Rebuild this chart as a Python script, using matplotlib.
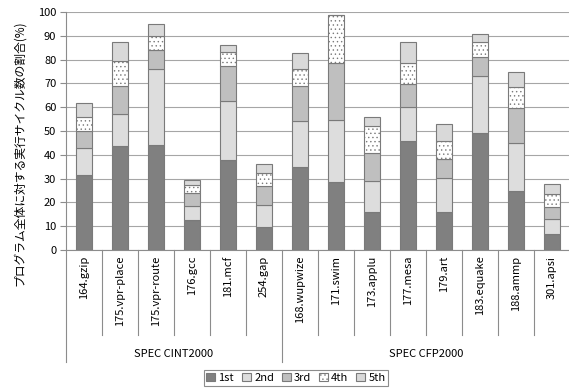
import numpy as np
import matplotlib
matplotlib.use("Agg")
import matplotlib.pyplot as plt
from matplotlib.transforms import blended_transform_factory

plt.rcParams['font.family'] = ['Noto Sans CJK JP', 'DejaVu Sans']
plt.rcParams['hatch.color'] = '#c4c4c4'
plt.rcParams['hatch.linewidth'] = 0.5

# データ (各順位の割合, %)
benchmarks = ['164.gzip', '175.vpr-place', '175.vpr-route', '176.gcc', '181.mcf', '254.gap',
              '168.wupwize', '171.swim', '173.applu', '177.mesa', '179.art', '183.equake',
              '188.ammp', '301.apsi']
first = [31.7, 43.7, 44.1, 12.6, 37.8, 9.8, 34.9, 28.6, 16.1, 45.9, 16.0, 49.2, 24.8, 6.6]
second = [11.0, 13.3, 31.8, 5.7, 24.9, 9.0, 19.2, 26.0, 12.8, 14.3, 14.4, 23.9, 20.0, 6.3]
third = [7.2, 11.9, 8.0, 5.8, 14.5, 8.1, 14.7, 23.8, 11.7, 9.4, 7.7, 7.9, 14.7, 5.3]
fourth = [5.8, 10.4, 6.0, 3.1, 5.9, 5.5, 7.1, 20.5, 11.4, 8.8, 7.7, 6.3, 9.1, 5.2]
fifth = [6.1, 8.0, 4.9, 2.1, 3.2, 3.9, 6.7, 0.0, 3.7, 8.9, 7.0, 3.6, 6.0, 4.3]
series_names = ['1st', '2nd', '3rd', '4th', '5th']
groups = ['SPEC CINT2000', 'SPEC CFP2000']
group_sizes = [6, 8]

W, H = 569, 388
fig = plt.figure(figsize=(W / 100, H / 100), dpi=100)
ax = fig.add_axes([66 / W, (H - 250) / H, (570 - 66) / W, (250 - 12) / H])

x = np.arange(len(benchmarks))
styles = [
    dict(color='#808080', hatch=None),
    dict(color='#dddddd', hatch=None),
    dict(color='#bfbfbf', hatch=None),
    dict(color='white', hatch='....'),
    dict(color='#d9d9d9', hatch=None),
]
bottom = np.zeros(len(benchmarks))
for name, vals, st in zip(series_names, [first, second, third, fourth, fifth], styles):
    vals = np.array(vals)
    ax.bar(x, vals, 0.42, bottom=bottom, color=st['color'], hatch=st['hatch'],
           edgecolor='#7a7a7a', linewidth=0.8, label=name, zorder=3)
    bottom += vals

ax.set_xlim(-0.5, len(benchmarks) - 0.5)
ax.set_ylim(0, 100)
ax.set_yticks(np.arange(0, 101, 10))
ax.yaxis.grid(True, color='#a6a6a6', linewidth=0.8, zorder=0)
ax.tick_params(axis='y', labelsize=8, length=4, color='#8c8c8c', pad=3)
for s in ['top', 'right']:
    ax.spines[s].set_visible(False)
ax.spines['left'].set_color('#8c8c8c')
ax.spines['bottom'].set_color('#8c8c8c')

ax.set_xticks(x)
ax.set_xticklabels(benchmarks, rotation=90, va='top', ha='center', fontsize=8)
ax.tick_params(axis='x', length=0, pad=4)

# 区切り線とグループ名
tr = blended_transform_factory(ax.transData, ax.transAxes)
group_edges = np.concatenate([[0], np.cumsum(group_sizes)])
for k in range(len(benchmarks) + 1):
    yend = -0.47 if k in group_edges else -0.357
    ax.plot([k - 0.5, k - 0.5], [0, yend], color='#8c8c8c', linewidth=0.8,
            transform=tr, clip_on=False)
for g, a, b in zip(groups, group_edges[:-1], group_edges[1:]):
    ax.text((a + b - 1) / 2, -0.437, g, transform=tr, ha='center', va='center', fontsize=8)

fig.text(20 / W, 1 - 153 / H, 'プログラム全体に対する実行サイクル数の割合(%)',
         rotation=90, ha='center', va='center', fontsize=8.5)

leg = fig.legend(loc='center', bbox_to_anchor=(296 / W, 1 - 378 / H), ncol=5, fontsize=8,
                 handlelength=0.8, handleheight=0.8, handletextpad=0.3, columnspacing=0.7,
                 fancybox=False, borderpad=0.25, edgecolor='#8c8c8c', framealpha=1)
leg.get_frame().set_linewidth(0.8)

fig.savefig('out.png', dpi=100)
